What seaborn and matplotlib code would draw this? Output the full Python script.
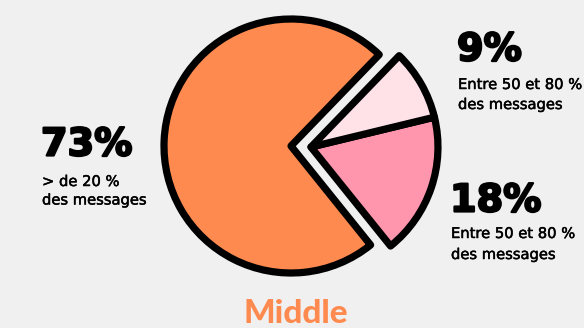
import matplotlib
matplotlib.use("Agg")
import matplotlib.pyplot as plt
import matplotlib.patheffects as pe
import seaborn as sns
import numpy as np

# data
categories = ["> de 20 %\ndes messages", "Entre 50 et 80 %\ndes messages", "Entre 50 et 80 %\ndes messages"]
values = [73, 18, 9]
pct_labels = ["73%", "18%", "9%"]
colors = ["#FF8A50", "#FF96AE", "#FFE2E8"]
title = "Middle"

sns.set_theme(style="white", rc={"axes.facecolor": "#F0F0F0", "figure.facecolor": "#F0F0F0"})
plt.rcParams['font.family'] = ['DejaVu Sans']

W, H = 584, 328
fig = plt.figure(figsize=(W / 100, H / 100), dpi=100)
ax = fig.add_axes([0, 0, 1, 1])
ax.set_facecolor("#F0F0F0")

cx, cy = 291, H - 146
R = 127
wedges, _ = ax.pie(values, colors=colors, startangle=46, counterclock=True,
                   radius=R, center=(cx, cy), frame=True,
                   wedgeprops=dict(edgecolor="black", linewidth=5.2, joinstyle="round"))
# shift the two pink wedges together
ang = np.deg2rad(-3)
shift = 20
for w in wedges[1:]:
    w.set_center((cx + shift * np.cos(ang), cy + shift * np.sin(ang)))

ax.set_xlim(0, W)
ax.set_ylim(0, H)
ax.set_aspect("auto")
ax.axis("off")


def ty(y):
    return H - y


big = dict(fontsize=27.5, fontweight="bold", color="black", va="baseline", ha="left",
           family="DejaVu Sans",
           path_effects=[pe.withStroke(linewidth=1.6, foreground="black")])
small = dict(fontsize=10.6, fontweight="normal", color="black", va="baseline", ha="left",
             family="DejaVu Sans",
             path_effects=[pe.withStroke(linewidth=0.35, foreground="black")])


def label(x, y_big, y_line1, pct, text, gap=20):
    ax.text(x, ty(y_big), pct, **big)
    for i, line in enumerate(text.split("\n")):
        ax.text(x + 1, ty(y_line1 + i * gap), line, **small)


label(41, 155.5, 186, pct_labels[0], categories[0], gap=18.5)
label(457, 60.5, 89, pct_labels[2], categories[2])
label(450, 211.5, 238, pct_labels[1], categories[1], gap=21)

ax.text(cx + 5, ty(323), title, fontsize=24, fontweight="black", color="#FF8A50",
        ha="center", va="baseline", family="Lato")

fig.savefig("out.png", dpi=100, facecolor=fig.get_facecolor())
